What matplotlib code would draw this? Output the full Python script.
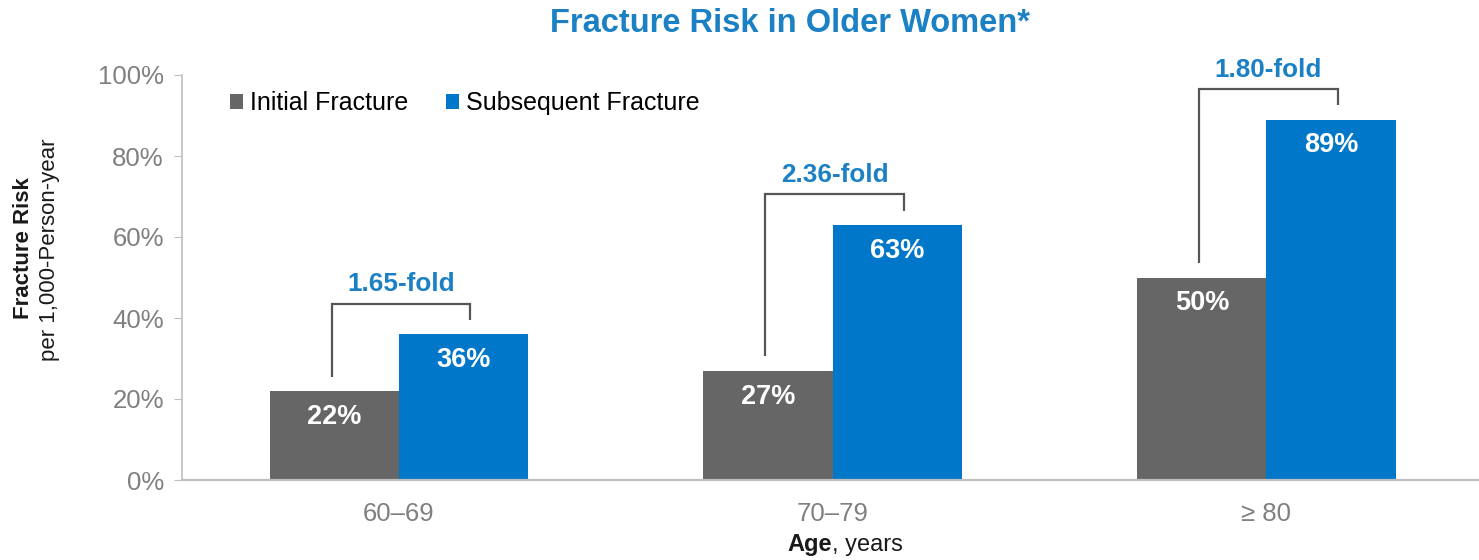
import matplotlib
matplotlib.use("Agg")
import matplotlib.pyplot as plt
import numpy as np

plt.rcParams["font.family"] = ["Liberation Sans", "DejaVu Sans"]

age_groups = ["60–69", "70–79", "≥ 80"]
initial = [22, 27, 50]
subsequent = [36, 63, 89]
fold_labels = ["1.65-fold", "2.36-fold", "1.80-fold"]
y_ticks = [0, 20, 40, 60, 80, 100]

GREY = "#666666"
BLUE = "#0077c8"
TEXT_BLUE = "#1b80c4"
TICK_GREY = "#808080"

W, H = 1479, 560
fig = plt.figure(figsize=(W / 100, H / 100), dpi=100)
ax = fig.add_axes([182 / W, (H - 480) / H, (W - 182) / W, (480 - 75) / H])

x = np.arange(len(age_groups))
width = 0.298
bars_i = ax.bar(x - width / 2, initial, width, color=GREY, label="Initial Fracture")
bars_s = ax.bar(x + width / 2, subsequent, width, color=BLUE, label="Subsequent Fracture")

# values printed inside the top of each bar
for bars in (bars_i, bars_s):
    for b in bars:
        ax.text(b.get_x() + b.get_width() / 2, b.get_height() - 6.4, f"{b.get_height():.0f}%",
                ha="center", va="center", color="white", fontsize=19.5, fontweight="bold")

# brackets comparing initial vs subsequent risk
for i, (a, s, lab) in enumerate(zip(initial, subsequent, fold_labels)):
    top = s + 7.5
    xl = x[i] - 0.155
    xr = x[i] + 0.164
    ax.plot([xl, xl, xr, xr], [a + 3.5, top, top, s + 3.5], color="#555555", lw=1.6,
            clip_on=False, solid_capstyle="butt", solid_joinstyle="miter")
    ax.text((xl + xr) / 2, top + 4.8, lab, ha="center", va="center", color=TEXT_BLUE,
            fontsize=18.8, fontweight="bold", clip_on=False)

ax.set_xlim(-0.5, 2.49)
ax.set_ylim(0, 100)
ax.set_yticks(y_ticks)
ax.set_yticklabels([f"{v}%" for v in y_ticks])
ax.set_xticks(x)
ax.set_xticklabels(age_groups)
ax.tick_params(axis="y", colors="#bfbfbf", labelcolor=TICK_GREY, labelsize=18.5, length=6, pad=7)
ax.tick_params(axis="x", length=0, labelcolor=TICK_GREY, labelsize=18.5, pad=16)
for side in ("top", "right"):
    ax.spines[side].set_visible(False)
ax.spines["left"].set_color("#bfbfbf")
ax.spines["bottom"].set_color("#bfbfbf")
ax.spines["left"].set_linewidth(1.2)
ax.spines["bottom"].set_linewidth(1.6)

ax.legend(loc="upper left", bbox_to_anchor=(0.02, 1.015), ncol=2, frameon=False,
          fontsize=18, handlelength=0.5, handleheight=0.5, handletextpad=0.3,
          columnspacing=1.5)

fig.text(790 / W, 1 - 23 / H, "Fracture Risk in Older Women*", ha="center", va="center",
         color=TEXT_BLUE, fontsize=23.5, fontweight="bold")

fig.text(24 / W, 1 - 248 / H, "Fracture Risk", rotation=90, ha="center", va="center",
         fontsize=16, fontweight="bold", color="#1a1a1a")
fig.text(50 / W, 1 - 250 / H, "per 1,000-Person-year", rotation=90, ha="center", va="center",
         fontsize=16, color="#1a1a1a")

age_x = 832 / W
fig.text(age_x, 1 - 545 / H, "Age", ha="right", va="center", fontsize=17,
         fontweight="bold", color="#1a1a1a")
fig.text(age_x, 1 - 545 / H, ", years", ha="left", va="center", fontsize=17, color="#1a1a1a")

fig.savefig("out.png", dpi=100)
